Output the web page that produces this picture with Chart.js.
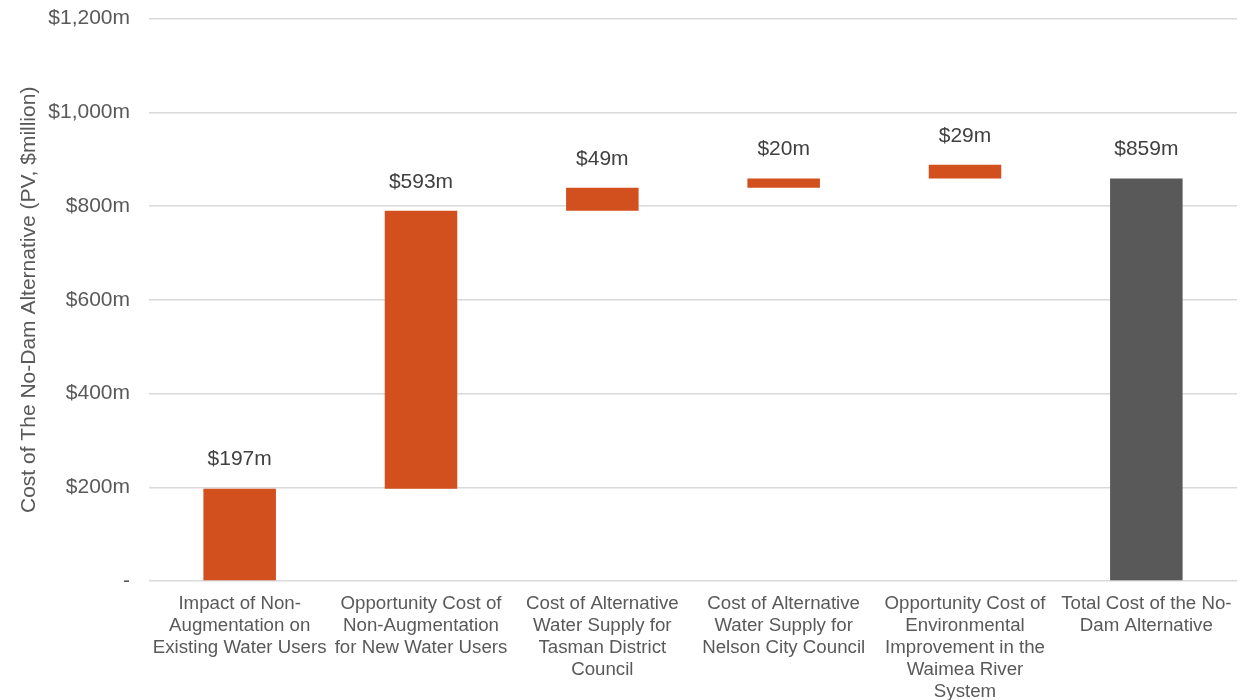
<!DOCTYPE html>
<html>
<head>
<meta charset="utf-8">
<script src="https://cdn.jsdelivr.net/npm/chart.js@4"></script>
<style>
  html, body { margin: 0; padding: 0; background: #fff; overflow: hidden; }
  #frame { width: 1248px; height: 700px; position: relative; overflow: hidden; }
  #wrap { position: absolute; left: 0; top: -13px; width: 1248px; height: 713px; }
</style>
</head>
<body>
<div id="frame"><div id="wrap"><canvas id="waterfall"></canvas></div></div>
<script>
// Chart data
const categories = [
    ["Impact of Non-", "Augmentation on", "Existing Water Users"],
    ["Opportunity Cost of", "Non-Augmentation", "for New Water Users"],
    ["Cost of Alternative", "Water Supply for", "Tasman District", "Council"],
    ["Cost of Alternative", "Water Supply for", "Nelson City Council"],
    ["Opportunity Cost of", "Environmental", "Improvement in the", "Waimea River", "System"],
    ["Total Cost of the No-", "Dam Alternative"]
];
const increments = [197, 593, 49, 20, 29];
const totalValue = 859;
const yTicks = [0, 200, 400, 600, 800, 1000, 1200];

const orange = "#D24F1E";
const grey = "#595959";

// Build floating bar ranges: each step starts where the previous ended
const ranges = [];
let running = 0;
increments.forEach(v => {
    ranges.push([running, running + v]);
    running += v;
});
ranges.push([0, totalValue]);
const valueLabels = increments.concat([totalValue]);
const barColors = increments.map(() => orange).concat([grey]);

function money(v) {
    return v === 0 ? "-" : "$" + v.toLocaleString("en-US") + "m";
}

// Draw the $ labels above each bar
const topLabels = {
    id: "topLabels",
    afterDatasetsDraw(chart) {
        const ctx = chart.ctx;
        const meta = chart.getDatasetMeta(0);
        ctx.save();
        ctx.font = "21px 'Liberation Sans', Arial, sans-serif";
        ctx.fillStyle = "#404040";
        ctx.textAlign = "center";
        ctx.textBaseline = "middle";
        meta.data.forEach((bar, i) => {
            ctx.fillText("$" + valueLabels[i] + "m", bar.x, bar.y - 29);
        });
        ctx.restore();
    }
};

Chart.defaults.font.family = "'Liberation Sans', Arial, sans-serif";
Chart.defaults.color = "#595959";

new Chart(document.getElementById("waterfall"), {
    type: "bar",
    data: {
        labels: categories,
        datasets: [{
            data: ranges,
            backgroundColor: barColors,
            borderWidth: 0,
            barPercentage: 0.8,
            categoryPercentage: 0.5
        }]
    },
    options: {
        responsive: true,
        maintainAspectRatio: false,
        animation: false,
        layout: { padding: { top: -4, right: 11, bottom: 0, left: 0 } },
        plugins: {
            legend: { display: false },
            tooltip: { enabled: false }
        },
        scales: {
            x: {
                grid: { display: false, drawTicks: false },
                border: { display: false },
                ticks: {
                    maxRotation: 0,
                    autoSkip: false,
                    padding: 12,
                    font: { size: 18.7, lineHeight: 1.18 },
                    color: "#595959"
                },
                afterFit(scale) { scale.height = 119; }
            },
            y: {
                min: 0,
                max: 1200,
                afterBuildTicks(scale) {
                    scale.ticks = yTicks.map(v => ({ value: v }));
                },
                grid: { color: "#D9D9D9", lineWidth: 1.5, drawTicks: false },
                border: { display: false },
                ticks: {
                    padding: 19,
                    font: { size: 21 },
                    color: "#595959",
                    callback: v => money(v)
                },
                title: {
                    display: true,
                    text: "Cost of The No-Dam Alternative (PV, $million)",
                    font: { size: 21 },
                    color: "#595959",
                    padding: { top: 17, bottom: 0 }
                },
                afterFit(scale) { scale.width = 149; }
            }
        }
    },
    plugins: [topLabels]
});
</script>
</body>
</html>
